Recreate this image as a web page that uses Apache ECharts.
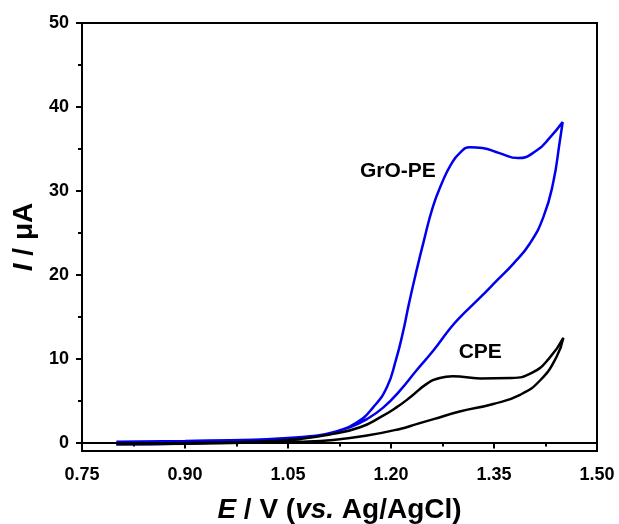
<!DOCTYPE html>
<html>
<head>
<meta charset="utf-8">
<script src="https://cdn.jsdelivr.net/npm/echarts@6/dist/echarts.min.js"></script>
<style>
  html, body { margin: 0; padding: 0; background: #fff; }
  #chart { width: 619px; height: 524px; }
</style>
</head>
<body>
<div id="chart"></div>
<script>
// GrO-PE: forward scan then reverse scan (closed loop)
const groE = [0.80, 0.90, 1.00, 1.05, 1.082, 1.116, 1.150, 1.174, 1.194, 1.207, 1.217, 1.226, 1.236, 1.248, 1.261, 1.274, 1.287, 1.300, 1.315, 1.333, 1.358, 1.385, 1.412, 1.432, 1.450,
  1.446, 1.436, 1.422, 1.402, 1.378, 1.354, 1.330, 1.300, 1.286, 1.262, 1.237, 1.213, 1.189, 1.165, 1.140, 1.106, 1.067, 1.00, 0.90, 0.80]
const groI = [0.1, 0.2, 0.35, 0.55, 0.75, 1.23, 2.4, 4.2, 6.6, 9.8, 13.0, 16.5, 20.1, 24.1, 28.1, 30.9, 33.1, 34.5, 35.2, 35.1, 34.5, 33.9, 34.8, 36.4, 38.2,
  36.0, 30.9, 26.9, 23.7, 21.3, 19.3, 17.3, 14.9, 13.6, 11.0, 8.6, 6.2, 4.2, 2.8, 1.83, 1.04, 0.63, 0.2, -0.1, -0.2]

// CPE
const cpeE = [0.80, 0.90, 1.00, 1.067, 1.116, 1.155, 1.184, 1.208, 1.228, 1.252, 1.271, 1.290, 1.330, 1.375, 1.405, 1.430, 1.451,
  1.441, 1.417, 1.388, 1.349, 1.300, 1.262, 1.237, 1.213, 1.165, 1.116, 1.067, 1.00, 0.90, 0.80]
const cpeI = [-0.1, -0.05, 0.1, 0.44, 1.04, 1.83, 3.0, 4.2, 5.4, 7.0, 7.7, 7.9, 7.65, 7.7, 8.3, 10.0, 12.5,
  10.2, 7.4, 5.7, 4.6, 3.7, 2.8, 2.2, 1.63, 0.84, 0.32, 0.1, 0.0, -0.15, -0.2]

const yMajor = [0, 10, 20, 30, 40, 50]
const yMinor = [5, 15, 25, 35, 45]

const labels = [
  { text: 'GrO-PE', value: [1.210, 32.3] },
  { text: 'CPE', value: [1.330, 10.8] },
]

const pairs = (xs, ys) => xs.map((x, i) => [x, ys[i]])

const FONT = 'Liberation Sans, Arial, sans-serif'
const chart = echarts.init(document.getElementById('chart'))

chart.setOption({
  backgroundColor: '#fff',
  animation: false,
  grid: {
    left: 82, right: 22, top: 23, bottom: 73,
    outerBoundsMode: 'none',
    show: true,
    borderColor: '#000',
    borderWidth: 2,
  },
  xAxis: {
    type: 'value',
    min: 0.75,
    max: 1.50,
    interval: 0.15,
    axisLine: { lineStyle: { color: '#000', width: 2 } },
    axisTick: { length: 6, lineStyle: { color: '#000', width: 2 } },
    minorTick: { show: true, splitNumber: 2, length: 4, lineStyle: { color: '#000', width: 2 } },
    splitLine: { show: false },
    axisLabel: {
      margin: 15,
      color: '#000',
      fontFamily: FONT,
      fontWeight: 'bold',
      fontSize: 18,
      formatter: v => v.toFixed(2),
    },
    name: '{i|E} / V ({i|vs.} Ag/AgCl)',
    nameLocation: 'middle',
    nameGap: 45,
    nameTextStyle: {
      color: '#000',
      fontFamily: FONT,
      fontWeight: 'bold',
      fontSize: 28,
      rich: {
        i: { fontStyle: 'italic', fontWeight: 'bold', fontSize: 28, fontFamily: FONT, color: '#000' },
      },
    },
  },
  yAxis: [
    {
      type: 'value',
      min: -1,
      max: 50,
      axisLine: { show: true, lineStyle: { color: '#000', width: 2 } },
      axisTick: { show: true, customValues: yMajor, length: 6, lineStyle: { color: '#000', width: 2 } },
      splitLine: { show: false },
      axisLabel: {
        customValues: yMajor,
        margin: 13,
        color: '#000',
        fontFamily: FONT,
        fontWeight: 'bold',
        fontSize: 18,
      },
      name: '{i|I} / μA',
      nameLocation: 'middle',
      nameGap: 43,
      nameTextStyle: {
        color: '#000',
        fontFamily: FONT,
        fontWeight: 'bold',
        fontSize: 28,
        rich: {
          i: { fontStyle: 'italic', fontWeight: 'bold', fontSize: 28, fontFamily: FONT, color: '#000' },
        },
      },
    },
    {
      type: 'value',
      position: 'left',
      min: -1,
      max: 50,
      axisLine: { show: false },
      axisTick: { show: true, customValues: yMinor, length: 4, lineStyle: { color: '#000', width: 2 } },
      axisLabel: { show: false },
      splitLine: { show: false },
    },
  ],
  series: [
    {
      name: 'GrO-PE',
      type: 'line',
      data: pairs(groE, groI),
      smooth: 0.5,
      showSymbol: false,
      lineStyle: { color: '#0000ee', width: 2.5 },
    },
    {
      name: 'CPE',
      type: 'line',
      data: pairs(cpeE, cpeI),
      smooth: 0.5,
      showSymbol: false,
      lineStyle: { color: '#000', width: 2.5 },
    },
    {
      type: 'scatter',
      symbolSize: 0,
      silent: true,
      itemStyle: { opacity: 1 },
      data: labels.map(l => ({ value: l.value, name: l.text })),
      label: {
        show: true,
        position: 'inside',
        formatter: p => p.name,
        color: '#000',
        textBorderWidth: 0,
        fontFamily: FONT,
        fontWeight: 'bold',
        fontSize: 21,
      },
    },
  ],
})
</script>
</body>
</html>
